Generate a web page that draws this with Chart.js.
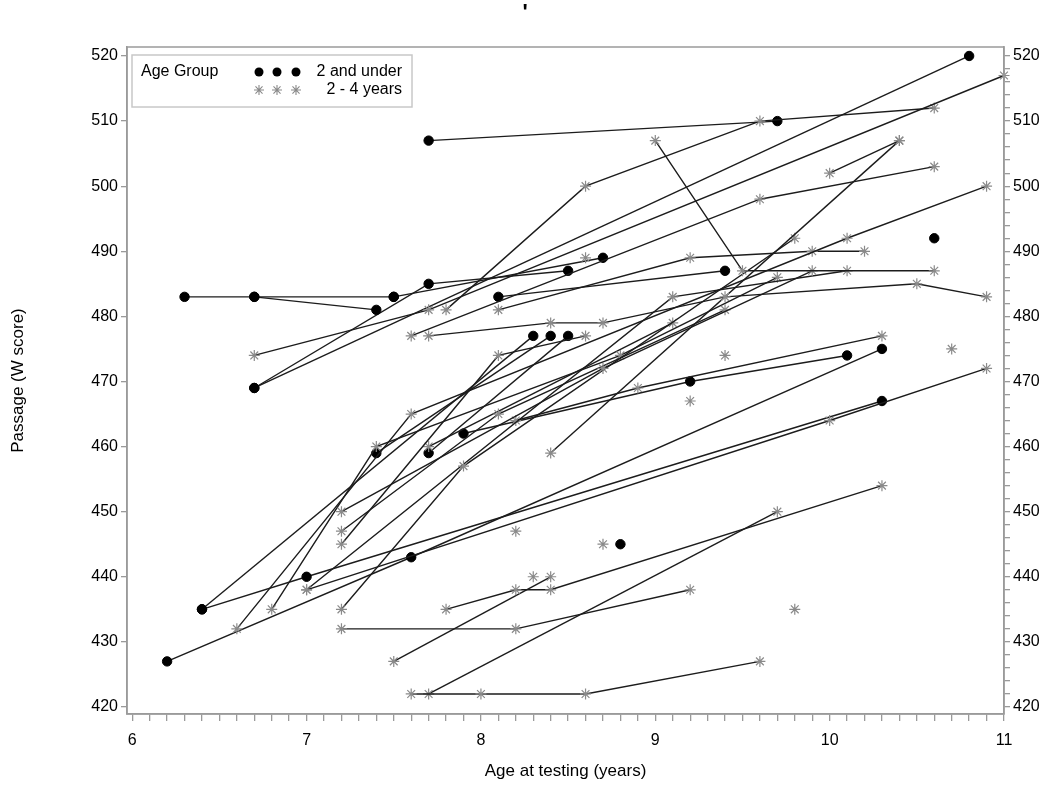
<!DOCTYPE html>
<html><head><meta charset="utf-8">
<script src="https://cdn.jsdelivr.net/npm/chart.js@4.4.1/dist/chart.umd.min.js"></script>
<style>html,body{margin:0;padding:0;background:#fff}canvas{display:block}</style>
</head><body>
<canvas id="c" width="1050" height="788"></canvas>
<script>
// ---- data ----
const legendTitle = 'Age Group';
const groupLabels = ['2 and under', '2 - 4 years'];
const xTickLabels = ['6', '7', '8', '9', '10', '11'];
const yTickLabels = ['420', '430', '440', '450', '460', '470', '480', '490', '500', '510', '520'];
const xTitle = 'Age at testing (years)';
const yTitle = 'Passage (W score)';

// one inner array per child (age group: 2 and under)
const under2Ages = [
  [6.3, 6.7, 7.5], [6.7, 7.4], [6.7, 7.7, 8.5], [6.7, 10.8], [6.2, 7.6, 10.3],
  [6.4, 7.0, 10.3], [6.4, 8.3], [7.7, 9.7], [7.5, 8.7], [7.4, 8.4], [7.7, 8.5],
  [7.9, 9.2, 10.1], [8.1, 9.4], [8.8], [10.6]
];
const under2Scores = [
  [483, 483, 483], [483, 481], [469, 485, 487], [469, 520], [427, 443, 475],
  [435, 440, 467], [435, 477], [507, 510], [483, 489], [459, 477], [459, 477],
  [462, 470, 474], [483, 487], [445], [492]
];

// one inner array per child (age group: 2 - 4 years)
const twoToFourAges = [
  [6.6, 7.6, 10.1, 10.9], [6.7, 7.7, 11.0], [7.8, 8.6, 9.6, 10.6], [7.6, 9.6, 10.6],
  [7.7, 8.4, 8.7, 9.4, 10.5, 10.9], [9.0, 9.5, 10.6], [8.4, 10.4], [10.0, 10.4],
  [8.1, 9.2, 9.9, 10.2], [7.2, 8.7, 9.9], [7.2, 8.1, 9.4], [7.2, 8.1, 8.6],
  [7.2, 7.9, 9.8], [7.0, 9.1, 10.1], [6.8, 7.4, 8.8, 9.7], [7.7, 9.1],
  [8.2, 8.9, 10.3], [7.8, 8.2, 8.4, 10.3], [7.6, 8.0, 8.6, 9.6], [7.7, 9.7],
  [7.2, 8.2, 9.2], [7.5, 8.4], [7.0, 10.0, 10.9],
  [8.2], [8.3], [8.6], [8.7], [9.2], [9.4], [9.8], [10.7]
];
const twoToFourScores = [
  [432, 465, 492, 500], [474, 481, 517], [481, 500, 510, 512], [477, 498, 503],
  [477, 479, 479, 483, 485, 483], [507, 487, 487], [459, 507], [502, 507],
  [481, 489, 490, 490], [450, 472, 487], [447, 465, 481], [445, 474, 477],
  [435, 457, 492], [438, 483, 487], [435, 460, 474, 486], [460, 479],
  [464, 469, 477], [435, 438, 438, 454], [422, 422, 422, 427], [422, 450],
  [432, 432, 438], [427, 440], [438, 464, 472],
  [447], [440], [489], [445], [467], [474], [435], [475]
];

// ---- styling ----
const FONT = "'Liberation Sans', Arial, sans-serif";
const AXIS_GREY = '#9a9a9a';
const LINE_COL = '#1c1c1c';
const DOT_STYLE = { pointStyle: 'circle', pointRadius: 4.7, pointBackgroundColor: '#000', pointBorderColor: '#000', pointBorderWidth: 1 };
const STAR_STYLE = { pointStyle: 'star', pointRadius: 5.5, pointBackgroundColor: '#8a8a8a', pointBorderColor: '#8a8a8a', pointBorderWidth: 1.2 };

function buildSets(agesList, scoresList, style) {
  return agesList.map((ages, k) => Object.assign({
    data: ages.map((a, i) => ({ x: a, y: scoresList[k][i] })),
    showLine: true,
    borderColor: LINE_COL,
    borderWidth: 1.4,
    tension: 0,
    clip: false,
    pointHoverRadius: 0
  }, style));
}

const datasets = [
  ...buildSets(twoToFourAges, twoToFourScores, STAR_STYLE),
  ...buildSets(under2Ages, under2Scores, DOT_STYLE)
];

const xVals = xTickLabels.map(Number);
const yVals = yTickLabels.map(Number);

const decorPlugin = {
  id: 'decor',
  afterDraw(chart) {
    const ctx = chart.ctx, a = chart.chartArea;
    ctx.save();
    // plot frame
    ctx.strokeStyle = AXIS_GREY; ctx.lineWidth = 1.5;
    ctx.strokeRect(a.left, a.top, a.right - a.left, a.bottom - a.top);
    // legend box
    const lx = a.left + 5, ly = a.top + 8, lw = 280, lh = 52;
    ctx.fillStyle = '#fff'; ctx.fillRect(lx, ly, lw, lh);
    ctx.strokeStyle = '#c8c8c8'; ctx.lineWidth = 1.5; ctx.strokeRect(lx, ly, lw, lh);
    ctx.fillStyle = '#000'; ctx.font = '16px ' + FONT; ctx.textBaseline = 'middle';
    ctx.textAlign = 'left'; ctx.fillText(legendTitle, lx + 9, ly + 17);
    ctx.textAlign = 'right';
    ctx.fillText(groupLabels[0], lx + 270, ly + 17);
    ctx.fillText(groupLabels[1], lx + 270, ly + 35);
    const mx = [lx + 127, lx + 145, lx + 164];
    mx.forEach(x => {
      ctx.fillStyle = '#000'; ctx.beginPath(); ctx.arc(x, ly + 17, 4.5, 0, Math.PI * 2); ctx.fill();
      ctx.strokeStyle = '#8a8a8a'; ctx.lineWidth = 1.1; ctx.beginPath();
      const r = 5, cy = ly + 35;
      for (let k = 0; k < 4; k++) {
        const t = k * Math.PI / 4;
        ctx.moveTo(x - r * Math.cos(t), cy - r * Math.sin(t));
        ctx.lineTo(x + r * Math.cos(t), cy + r * Math.sin(t));
      }
      ctx.stroke();
    });
    // small title mark at the top
    ctx.fillStyle = '#000'; ctx.textAlign = 'center'; ctx.textBaseline = 'top';
    ctx.font = 'bold 22px ' + FONT; ctx.fillText("'", 525, 2);
    ctx.restore();
  }
};

const tickFont = { family: FONT, size: 16 };
const titleFont = { family: FONT, size: 17 };
const isInt = v => Math.abs(v - Math.round(v)) < 1e-6;

new Chart(document.getElementById('c'), {
  type: 'scatter',
  data: { datasets },
  options: {
    responsive: false,
    animation: false,
    events: [],
    layout: { padding: { top: 47, left: 0, right: 0, bottom: 0 } },
    plugins: { legend: { display: false }, tooltip: { enabled: false } },
    scales: {
      x: {
        type: 'linear', min: 5.97, max: 11.0, position: 'bottom',
        afterFit: s => { s.height = 74; },
        afterBuildTicks: s => {
          const t = [];
          for (let i = 0; i <= 50; i++) t.push({ value: Math.round((xVals[0] + i / 10) * 10) / 10 });
          s.ticks = t;
        },
        ticks: {
          autoSkip: false, maxRotation: 0, padding: 10, color: '#000', font: tickFont,
          callback: v => isInt(v) ? xTickLabels[xVals.indexOf(Math.round(v))] : ''
        },
        grid: { drawOnChartArea: false, drawTicks: true, tickLength: 7, color: AXIS_GREY, lineWidth: 1.3 },
        border: { display: true, color: AXIS_GREY, width: 1.5 },
        title: { display: true, text: xTitle, color: '#000', font: titleFont, padding: { top: 4, bottom: 6 } }
      },
      y: {
        type: 'linear', min: 418.92, max: 521.38, position: 'left',
        afterFit: s => { s.width = 127; },
        afterBuildTicks: s => { s.ticks = yVals.map(v => ({ value: v })); },
        ticks: { autoSkip: false, padding: 3, color: '#000', font: tickFont, callback: v => String(v) },
        grid: { drawOnChartArea: false, drawTicks: true, tickLength: 6, color: AXIS_GREY, lineWidth: 1.3 },
        border: { display: true, color: AXIS_GREY, width: 1.5 },
        title: { display: true, text: yTitle, color: '#000', font: titleFont, padding: { top: 8, bottom: 4 } }
      },
      y2: {
        type: 'linear', min: 418.92, max: 521.38, position: 'right',
        afterFit: s => { s.width = 46; },
        afterBuildTicks: s => {
          const t = [];
          for (let v = yVals[0]; v <= yVals[yVals.length - 1]; v += 2) t.push({ value: v });
          s.ticks = t;
        },
        ticks: {
          autoSkip: false, padding: 3, color: '#000', font: tickFont,
          callback: v => (v % 10 === 0) ? yTickLabels[yVals.indexOf(v)] : ''
        },
        grid: { drawOnChartArea: false, drawTicks: true, tickLength: 6, color: AXIS_GREY, lineWidth: 1.3 },
        border: { display: true, color: AXIS_GREY, width: 1.5 }
      }
    }
  },
  plugins: [decorPlugin]
});
</script>
</body></html>
